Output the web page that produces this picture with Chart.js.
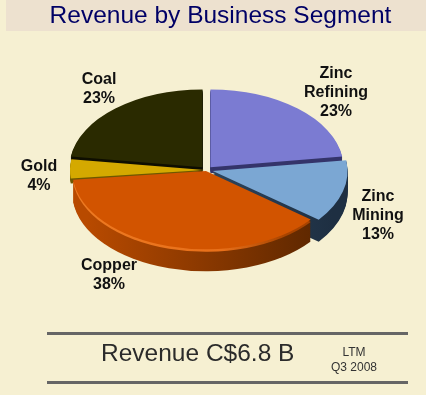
<!DOCTYPE html>
<html lang="en">
<head>
<meta charset="UTF-8">
<title>Revenue by Business Segment</title>
<script src="https://cdn.jsdelivr.net/npm/chart.js"></script>
<style>
    html, body { margin: 0; padding: 0; background: #F6F0D2; }
    body { width: 426px; height: 395px; position: relative; overflow: hidden; font-family: "Liberation Sans", Arial, sans-serif; }
    canvas { position: absolute; left: 0; top: 0; }
    .band { position: absolute; left: 6px; top: 0; width: 420px; height: 31px; background: #EDE1CF; }
    h1 { position: absolute; left: 0; top: 0; width: 441px; margin: 0; text-align: center; font-size: 24.5px; line-height: 30px; font-weight: normal; color: #000066; }
    .rule { position: absolute; left: 47px; width: 361px; height: 3px; background: #666; }
    .rev { position: absolute; left: 101px; top: 338px; font-size: 24.5px; line-height: 30px; color: #2b2b2b; white-space: nowrap; }
    .ltm { position: absolute; left: 314px; width: 80px; text-align: center; font-size: 12px; line-height: 15px; color: #333; }
</style>
</head>
<body>
    <div class="band"></div>
    <canvas id="pie" width="426" height="395"></canvas>
    <h1>Revenue by Business Segment</h1>
    <div class="rule" style="top:332px"></div>
    <div class="rule" style="top:381px"></div>
    <div class="rev">Revenue C$6.8 B</div>
    <div class="ltm" style="top:345px">LTM<br>Q3 2008</div>

    <script>
        const segments = ['Zinc Refining', 'Zinc Mining', 'Copper', 'Gold', 'Coal'];
        const shares = [23, 13, 38, 4, 23];

        const topColors = ['#7B7BD2', '#7BA7D3', '#D25400', '#D4A900', '#2A2A00'];
        const sideColors = [
            ['#34346A', '#34346A'],
            ['#3A5875', '#1E2F42'],
            ['#B84A00', '#5A2600'],
            ['#6E5800', '#6E5800'],
            ['#0E0E00', '#0E0E00']
        ];
        const explode = [24, 26, 8, 8, 24];
        // how far each slice's side shows below its top face
        const depths = [6, 22, 22, 5, 5];
        // where each label sits on the page (centre x, first baseline y)
        const labelSpots = [[336, 78], [378, 201], [109, 270], [39, 171], [99, 84]];

        const squash = 0.585;
        const backToFront = [4, 0, 3, 1, 2];

        const pie3d = {
            id: 'pie3d',
            beforeDatasetsDraw(chart) {
                const ctx = chart.ctx;
                const arcs = chart.getDatasetMeta(0).data;
                const cx = arcs[0].x, cy = arcs[0].y, r = arcs[0].outerRadius;
                ctx.save();
                for (const i of backToFront) {
                    const grad = ctx.createLinearGradient(cx - r * 0.9, 0, cx + r * 0.9, 0);
                    grad.addColorStop(0, sideColors[i][0]);
                    grad.addColorStop(1, sideColors[i][1]);
                    const shade = Object.create(arcs[i].options);
                    shade.backgroundColor = grad;
                    const real = arcs[i].options;
                    arcs[i].options = shade;
                    for (let d = depths[i]; d >= 1; d--) {
                        ctx.save();
                        ctx.translate(0, d);
                        ctx.translate(0, cy);
                        ctx.scale(1, squash);
                        ctx.translate(0, -cy);
                        arcs[i].draw(ctx);
                        ctx.restore();
                    }
                    // light rim on the copper edge
                    if (i === 2) {
                        const rim = ctx.createLinearGradient(cx - r, 0, cx + r * 0.6, 0);
                        rim.addColorStop(0, '#EE7A22');
                        rim.addColorStop(0.7, '#E8701A');
                        rim.addColorStop(1, '#A84400');
                        shade.backgroundColor = rim;
                        ctx.save();
                        ctx.translate(0, 2.5);
                        ctx.translate(0, cy);
                        ctx.scale(1, squash);
                        ctx.translate(0, -cy);
                        arcs[i].draw(ctx);
                        ctx.restore();
                    }
                    arcs[i].options = real;
                }
                ctx.translate(0, cy);
                ctx.scale(1, squash);
                ctx.translate(0, -cy);
            },
            afterDatasetsDraw(chart) {
                const ctx = chart.ctx;
                ctx.restore();
                ctx.save();
                ctx.font = 'bold 16px "Liberation Sans", Arial, sans-serif';
                ctx.fillStyle = '#111';
                ctx.textAlign = 'center';
                segments.forEach((name, i) => {
                    const lines = name.split(' ').concat(shares[i] + '%');
                    lines.forEach((line, n) => {
                        ctx.fillText(line, labelSpots[i][0], labelSpots[i][1] + n * 19);
                    });
                });
                ctx.restore();
            }
        };

        new Chart(document.getElementById('pie'), {
            type: 'pie',
            data: {
                labels: segments,
                datasets: [{
                    data: shares,
                    backgroundColor: topColors,
                    borderWidth: 0,
                    offset: explode,
                    clip: false
                }]
            },
            options: {
                responsive: false,
                animation: false,
                radius: 133,
                layout: { padding: { left: 66, right: 79, top: 30, bottom: 85 } },
                plugins: {
                    legend: { display: false },
                    tooltip: { enabled: false }
                }
            },
            plugins: [pie3d]
        });
    </script>
</body>
</html>
